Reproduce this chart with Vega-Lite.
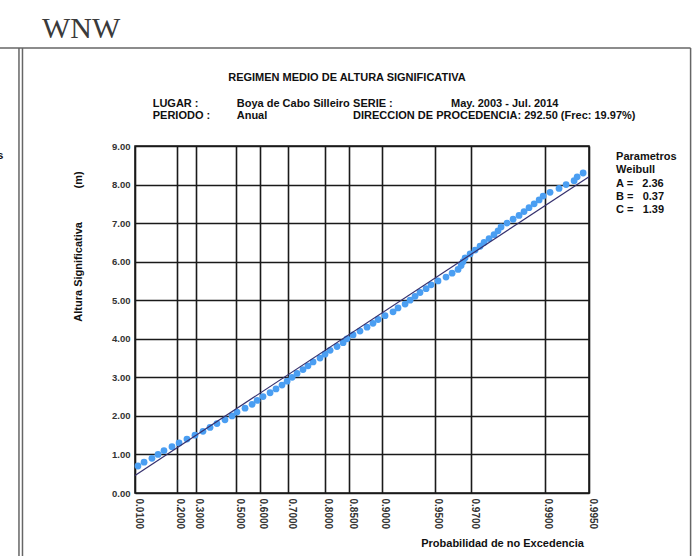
{
  "$schema": "https://vega.github.io/schema/vega-lite/v6.json",
  "width": 454,
  "height": 347,
  "autosize": {"type": "none"},
  "padding": {"left": 135, "top": 146, "right": 105, "bottom": 63},
  "background": "white",
  "config": {
    "view": {"stroke": "#111", "strokeWidth": 1.5},
    "font": "Liberation Sans",
    "text": {"font": "Liberation Sans"}
  },
  "datasets": {
    "obs": [
      {"u": 0.058, "hs": 0.7}, {"u": 0.102, "hs": 0.8}, {"u": 0.159, "hs": 0.9}, {"u": 0.203, "hs": 1.0},
      {"u": 0.246, "hs": 1.1}, {"u": 0.304, "hs": 1.2}, {"u": 0.355, "hs": 1.3}, {"u": 0.412, "hs": 1.4},
      {"u": 0.470, "hs": 1.5}, {"u": 0.528, "hs": 1.6}, {"u": 0.579, "hs": 1.7}, {"u": 0.629, "hs": 1.8},
      {"u": 0.687, "hs": 1.9}, {"u": 0.738, "hs": 2.0}, {"u": 0.774, "hs": 2.1}, {"u": 0.832, "hs": 2.2},
      {"u": 0.883, "hs": 2.3}, {"u": 0.919, "hs": 2.4}, {"u": 0.962, "hs": 2.5}, {"u": 1.013, "hs": 2.6},
      {"u": 1.056, "hs": 2.7}, {"u": 1.099, "hs": 2.8}, {"u": 1.136, "hs": 2.9}, {"u": 1.172, "hs": 3.0},
      {"u": 1.208, "hs": 3.1}, {"u": 1.251, "hs": 3.2}, {"u": 1.287, "hs": 3.3}, {"u": 1.324, "hs": 3.4},
      {"u": 1.374, "hs": 3.5}, {"u": 1.410, "hs": 3.6}, {"u": 1.447, "hs": 3.7}, {"u": 1.497, "hs": 3.8},
      {"u": 1.541, "hs": 3.9}, {"u": 1.569, "hs": 4.0}, {"u": 1.613, "hs": 4.1}, {"u": 1.663, "hs": 4.2},
      {"u": 1.714, "hs": 4.3}, {"u": 1.757, "hs": 4.4}, {"u": 1.794, "hs": 4.5}, {"u": 1.844, "hs": 4.6},
      {"u": 1.902, "hs": 4.7}, {"u": 1.938, "hs": 4.8}, {"u": 1.989, "hs": 4.9}, {"u": 2.025, "hs": 5.0},
      {"u": 2.061, "hs": 5.1}, {"u": 2.097, "hs": 5.2}, {"u": 2.141, "hs": 5.3}, {"u": 2.177, "hs": 5.4},
      {"u": 2.227, "hs": 5.5}, {"u": 2.285, "hs": 5.6}, {"u": 2.329, "hs": 5.7}, {"u": 2.372, "hs": 5.8},
      {"u": 2.394, "hs": 5.9}, {"u": 2.408, "hs": 6.0}, {"u": 2.423, "hs": 6.1}, {"u": 2.459, "hs": 6.2},
      {"u": 2.495, "hs": 6.3}, {"u": 2.531, "hs": 6.4}, {"u": 2.560, "hs": 6.5}, {"u": 2.596, "hs": 6.6},
      {"u": 2.632, "hs": 6.7}, {"u": 2.661, "hs": 6.8}, {"u": 2.683, "hs": 6.9}, {"u": 2.726, "hs": 7.0},
      {"u": 2.770, "hs": 7.1}, {"u": 2.813, "hs": 7.2}, {"u": 2.849, "hs": 7.3}, {"u": 2.885, "hs": 7.4},
      {"u": 2.922, "hs": 7.5}, {"u": 2.958, "hs": 7.6}, {"u": 2.987, "hs": 7.7}, {"u": 3.037, "hs": 7.8},
      {"u": 3.102, "hs": 7.9}, {"u": 3.153, "hs": 8.0}, {"u": 3.211, "hs": 8.1}, {"u": 3.233, "hs": 8.2},
      {"u": 3.276, "hs": 8.3}
    ],
    "fit": [
      {"u": 0.0365, "hs": 0.456},
      {"u": 3.3186, "hs": 8.202}
    ]
  },
  "layer": [
    {
      "data": {"name": "obs"},
      "mark": {"type": "circle", "color": "#4a9ef2", "opacity": 1, "size": 46},
      "encoding": {
        "x": {
          "field": "u", "type": "quantitative",
          "scale": {"domain": [0.0365, 3.3186], "nice": false, "zero": false},
          "axis": {
            "values": [0.0365, 0.3399, 0.4763, 0.7682, 0.939, 1.1429, 1.4082, 1.5851, 1.8221, 2.2021, 2.4661, 3.0002, 3.3186],
            "tickCount": 30,
            "labelExpr": "datum.value < 0.1 ? '0.0100' : datum.value < 0.4 ? '0.2000' : datum.value < 0.6 ? '0.3000' : datum.value < 0.85 ? '0.5000' : datum.value < 1.0 ? '0.6000' : datum.value < 1.3 ? '0.7000' : datum.value < 1.5 ? '0.8000' : datum.value < 1.7 ? '0.8500' : datum.value < 2.0 ? '0.9000' : datum.value < 2.3 ? '0.9500' : datum.value < 2.7 ? '0.9700' : datum.value < 3.1 ? '0.9900' : '0.9950'",
            "labelAngle": 90,
            "labelAlign": "left",
            "labelBaseline": "alphabetic",
            "labelPadding": 5,
            "labelFlush": false,
            "labelOverlap": false,
            "labelBound": false,
            "labelFont": "Liberation Sans",
            "labelFontWeight": "bold",
            "labelFontSize": 10,
            "labelColor": "#333",
            "ticks": false,
            "domain": false,
            "grid": true,
            "gridColor": "#1a1a1a",
            "gridWidth": 1.6,
            "gridOpacity": 1,
            "title": "Probabilidad de no Excedencia",
            "titleFont": "Liberation Sans",
            "titleFontWeight": "bold",
            "titleFontSize": 11,
            "titleColor": "#111",
            "titleAlign": "center",
            "titleBaseline": "alphabetic",
            "titleX": 367,
            "titleY": 53
          }
        },
        "y": {
          "field": "hs", "type": "quantitative",
          "scale": {"domain": [0, 9], "nice": false, "zero": false},
          "axis": {
            "values": [0, 1, 2, 3, 4, 5, 6, 7, 8, 9],
            "tickCount": 30,
            "format": ".2f",
            "labelPadding": 5,
            "labelOverlap": false,
            "labelFlush": false,
            "labelBound": false,
            "labelFont": "Liberation Sans",
            "labelFontWeight": "bold",
            "labelFontSize": 9.5,
            "labelColor": "#333",
            "ticks": false,
            "domain": false,
            "grid": true,
            "gridColor": "#1a1a1a",
            "gridWidth": 1.6,
            "gridOpacity": 1,
            "title": "Altura Significativa\u00a0\u00a0\u00a0\u00a0\u00a0\u00a0\u00a0\u00a0\u00a0\u00a0\u00a0(m)",
            "titleFont": "Liberation Sans",
            "titleFontWeight": "bold",
            "titleFontSize": 11,
            "titleColor": "#111",
            "titleAngle": -90,
            "titleAlign": "center",
            "titleBaseline": "middle",
            "titleX": -57,
            "titleY": 100
          }
        }
      }
    },
    {
      "data": {"name": "fit"},
      "mark": {"type": "line", "color": "#35306e", "strokeWidth": 1.2},
      "encoding": {
        "x": {"field": "u", "type": "quantitative", "scale": {"domain": [0.0365, 3.3186], "nice": false, "zero": false}},
        "y": {"field": "hs", "type": "quantitative", "scale": {"domain": [0, 9], "nice": false, "zero": false}}
      }
    },
    {
      "data": {"values": [{}]},
      "mark": {"type": "rule", "color": "#666", "strokeWidth": 1.5, "clip": false},
      "encoding": {
        "x": {"datum": -0.9396, "type": "quantitative", "scale": {"domain": [0.0365, 3.3186], "nice": false, "zero": false}},
        "x2": {"datum": 4.0531},
        "y": {"datum": 11.541, "type": "quantitative", "scale": {"domain": [0, 9], "nice": false, "zero": false}}
      }
    },
    {
      "data": {"values": [{}]},
      "mark": {"type": "rule", "color": "#666", "strokeWidth": 1.5, "clip": false},
      "encoding": {
        "x": {"datum": -0.8023, "type": "quantitative", "scale": {"domain": [0.0365, 3.3186], "nice": false, "zero": false}},
        "y": {"datum": 11.541, "type": "quantitative", "scale": {"domain": [0, 9], "nice": false, "zero": false}},
        "y2": {"datum": -2.5}
      }
    },
    {
      "data": {"values": [{}]},
      "mark": {"type": "rule", "color": "#666", "strokeWidth": 1.5, "clip": false},
      "encoding": {
        "x": {"datum": -0.7769, "type": "quantitative", "scale": {"domain": [0.0365, 3.3186], "nice": false, "zero": false}},
        "y": {"datum": 11.541, "type": "quantitative", "scale": {"domain": [0, 9], "nice": false, "zero": false}},
        "y2": {"datum": -2.5}
      }
    },
    {
      "data": {"values": [{}]},
      "mark": {"type": "rule", "color": "#666", "strokeWidth": 1.5, "clip": false},
      "encoding": {
        "x": {"datum": 4.0531, "type": "quantitative", "scale": {"domain": [0.0365, 3.3186], "nice": false, "zero": false}},
        "y": {"datum": 11.541, "type": "quantitative", "scale": {"domain": [0, 9], "nice": false, "zero": false}},
        "y2": {"datum": -2.5}
      }
    },
    {
      "data": {"values": [{}]},
      "mark": {"type": "text", "text": "WNW", "font": "Liberation Serif", "fontSize": 30, "color": "#3a3a3a", "align": "left", "baseline": "alphabetic", "clip": false},
      "encoding": {
        "x": {"datum": -0.636, "type": "quantitative", "scale": {"domain": [0.0365, 3.3186], "nice": false, "zero": false}},
        "y": {"datum": 11.813, "type": "quantitative", "scale": {"domain": [0, 9], "nice": false, "zero": false}}
      }
    },
    {
      "data": {"values": [{}]},
      "mark": {"type": "text", "text": "REGIMEN MEDIO DE ALTURA SIGNIFICATIVA", "fontWeight": "bold", "fontSize": 11, "color": "#111", "align": "center", "baseline": "alphabetic", "clip": false},
      "encoding": {
        "x": {"datum": 1.5687, "type": "quantitative", "scale": {"domain": [0.0365, 3.3186], "nice": false, "zero": false}},
        "y": {"datum": 10.692, "type": "quantitative", "scale": {"domain": [0, 9], "nice": false, "zero": false}}
      }
    },
    {
      "data": {"values": [{}]},
      "mark": {"type": "text", "text": ["LUGAR :", "PERIODO :"], "lineHeight": 12.4, "fontWeight": "bold", "fontSize": 11, "color": "#111", "align": "left", "baseline": "alphabetic", "clip": false},
      "encoding": {
        "x": {"datum": 0.1645, "type": "quantitative", "scale": {"domain": [0.0365, 3.3186], "nice": false, "zero": false}},
        "y": {"datum": 10.018, "type": "quantitative", "scale": {"domain": [0, 9], "nice": false, "zero": false}}
      }
    },
    {
      "data": {"values": [{}]},
      "mark": {"type": "text", "text": ["Boya de Cabo Silleiro", "Anual"], "lineHeight": 12.4, "fontWeight": "bold", "fontSize": 11, "color": "#111", "align": "left", "baseline": "alphabetic", "clip": false},
      "encoding": {
        "x": {"datum": 0.7719, "type": "quantitative", "scale": {"domain": [0.0365, 3.3186], "nice": false, "zero": false}},
        "y": {"datum": 10.018, "type": "quantitative", "scale": {"domain": [0, 9], "nice": false, "zero": false}}
      }
    },
    {
      "data": {"values": [{}]},
      "mark": {"type": "text", "text": ["SERIE :", "DIRECCION DE PROCEDENCIA: 292.50 (Frec: 19.97%)"], "lineHeight": 12.4, "fontWeight": "bold", "fontSize": 11, "color": "#111", "align": "left", "baseline": "alphabetic", "clip": false},
      "encoding": {
        "x": {"datum": 1.6128, "type": "quantitative", "scale": {"domain": [0.0365, 3.3186], "nice": false, "zero": false}},
        "y": {"datum": 10.018, "type": "quantitative", "scale": {"domain": [0, 9], "nice": false, "zero": false}}
      }
    },
    {
      "data": {"values": [{}]},
      "mark": {"type": "text", "text": "May. 2003 - Jul. 2014", "fontWeight": "bold", "fontSize": 11, "color": "#111", "align": "left", "baseline": "alphabetic", "clip": false},
      "encoding": {
        "x": {"datum": 2.3214, "type": "quantitative", "scale": {"domain": [0.0365, 3.3186], "nice": false, "zero": false}},
        "y": {"datum": 10.018, "type": "quantitative", "scale": {"domain": [0, 9], "nice": false, "zero": false}}
      }
    },
    {
      "data": {"values": [{}]},
      "mark": {"type": "text", "text": ["Parametros", "Weibull", "A =\u00a0\u00a0\u00a02.36", "B =\u00a0\u00a0\u00a00.37", "C =\u00a0\u00a0\u00a01.39"], "lineHeight": 13.1, "fontWeight": "bold", "fontSize": 11, "color": "#111", "align": "left", "baseline": "alphabetic", "clip": false},
      "encoding": {
        "x": {"datum": 3.5145, "type": "quantitative", "scale": {"domain": [0.0365, 3.3186], "nice": false, "zero": false}},
        "y": {"datum": 8.627, "type": "quantitative", "scale": {"domain": [0, 9], "nice": false, "zero": false}}
      }
    },
    {
      "data": {"values": [{}]},
      "mark": {"type": "text", "text": "Parametros", "fontWeight": "bold", "fontSize": 11, "color": "#111", "align": "right", "baseline": "alphabetic", "clip": false},
      "encoding": {
        "x": {"datum": -0.9143, "type": "quantitative", "scale": {"domain": [0.0365, 3.3186], "nice": false, "zero": false}},
        "y": {"datum": 8.653, "type": "quantitative", "scale": {"domain": [0, 9], "nice": false, "zero": false}}
      }
    }
  ]
}
